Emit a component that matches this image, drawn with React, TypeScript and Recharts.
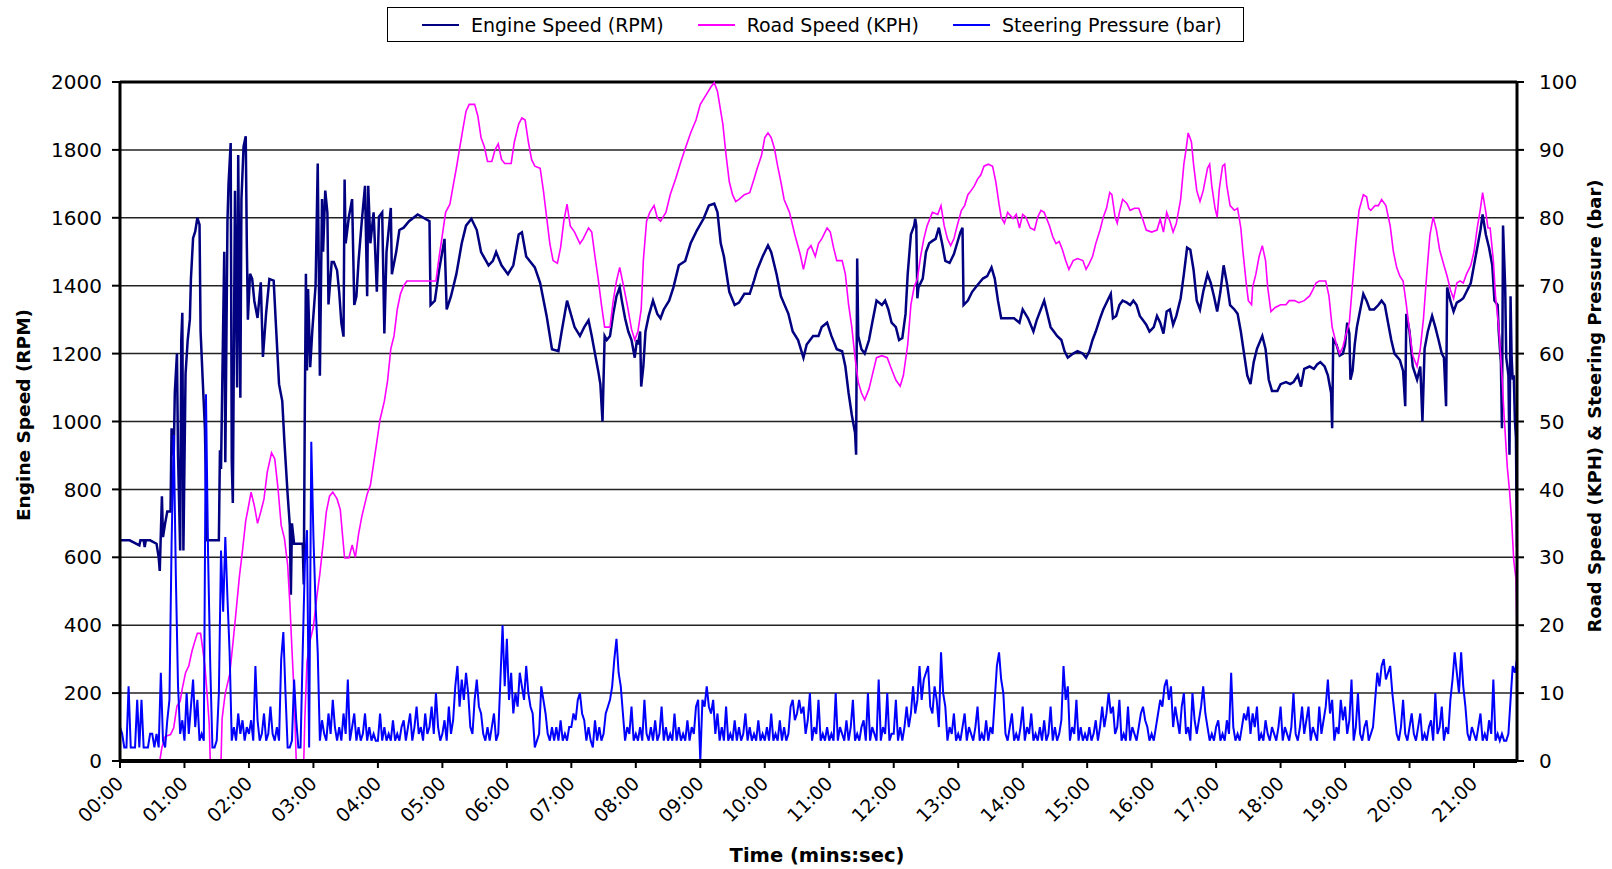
import React from 'react';
import { LineChart, Line, XAxis, YAxis, CartesianGrid, ReferenceLine } from 'recharts';

const FONT = '"DejaVu Sans", "Liberation Sans", Arial, sans-serif';

// [seconds, rpm]
const engineSpeed: [number, number][] = [
  [0, 650], [9, 650], [18, 635], [19, 650], [22, 650], [23, 630], [24, 650], [28, 650], [34, 640], [36, 600],
  [37, 560], [39, 780], [40, 660], [42, 700], [44, 735], [47, 735], [48, 980], [50, 900], [51, 1085], [53, 1200],
  [54, 900], [56, 620], [57, 1240], [58, 1320], [59, 620], [61, 1140], [63, 1240], [65, 1300], [66, 1420], [68, 1540],
  [70, 1560], [72, 1600], [74, 1580], [75, 1265], [77, 1120], [79, 980], [81, 650], [92, 650], [93, 915], [94, 860],
  [97, 1500], [98, 880], [100, 1590], [101, 1700], [103, 1820], [104, 880], [105, 760], [107, 1680], [109, 1100], [110, 1785],
  [112, 1070], [113, 1655], [115, 1810], [117, 1840], [118, 1525], [119, 1300], [121, 1435], [123, 1420], [125, 1355], [128, 1305],
  [131, 1410], [133, 1190], [136, 1320], [139, 1420], [143, 1415], [145, 1290], [148, 1110], [151, 1060], [153, 940], [156, 785],
  [158, 695], [159, 490], [160, 700], [162, 640], [170, 640], [171, 520], [172, 1045], [173, 1435], [174, 1150], [175, 1390],
  [177, 1160], [179, 1270], [182, 1400], [184, 1760], [186, 1135], [188, 1655], [189, 1500], [191, 1680], [193, 1615], [194, 1345],
  [197, 1470], [199, 1470], [202, 1445], [204, 1380], [206, 1290], [208, 1250], [209, 1713], [210, 1525], [213, 1603], [216, 1655],
  [218, 1343], [220, 1369], [222, 1473], [225, 1590], [228, 1694], [230, 1369], [231, 1694], [233, 1525], [236, 1616], [239, 1382],
  [241, 1603], [244, 1616], [246, 1259], [248, 1499], [252, 1629], [253, 1434], [257, 1499], [260, 1564], [264, 1571], [269, 1590],
  [277, 1610], [288, 1590], [289, 1343], [293, 1356], [297, 1447], [302, 1538], [304, 1330], [308, 1369], [313, 1434], [318, 1525],
  [322, 1577], [327, 1597], [332, 1564], [336, 1499], [343, 1460], [347, 1473], [350, 1499], [355, 1460], [361, 1434], [366, 1460],
  [371, 1551], [374, 1557], [378, 1486], [386, 1454], [391, 1408], [397, 1311], [402, 1213], [408, 1207], [411, 1265], [416, 1356],
  [423, 1278], [428, 1252], [432, 1278], [436, 1298], [439, 1252], [442, 1200], [445, 1149], [447, 1110], [449, 1000], [451, 1252],
  [453, 1240], [456, 1252], [459, 1317], [462, 1369], [465, 1395], [467, 1356], [470, 1304], [473, 1265], [476, 1240], [479, 1188],
  [481, 1240], [482, 1227], [484, 1265], [485, 1103], [487, 1162], [489, 1265], [492, 1311], [496, 1356], [500, 1317], [503, 1304],
  [506, 1330], [511, 1356], [515, 1395], [520, 1460], [526, 1473], [531, 1525], [537, 1564], [543, 1597], [548, 1636], [553, 1642],
  [556, 1616], [559, 1525], [562, 1486], [567, 1382], [572, 1343], [576, 1350], [581, 1376], [586, 1376], [590, 1415], [593, 1447],
  [598, 1486], [603, 1519], [606, 1499], [611, 1434], [615, 1369], [622, 1317], [626, 1265], [631, 1240], [636, 1188], [639, 1227],
  [645, 1252], [650, 1252], [653, 1278], [658, 1291], [662, 1252], [667, 1213], [672, 1207], [675, 1162], [678, 1084], [681, 1019],
  [684, 967], [685, 902], [686, 1480], [687, 1252], [690, 1213], [693, 1200], [697, 1240], [700, 1291], [704, 1356], [709, 1343],
  [712, 1356], [715, 1330], [718, 1291], [722, 1278], [725, 1240], [728, 1246], [731, 1317], [733, 1434], [736, 1551], [739, 1577],
  [740, 1597], [741, 1577], [742, 1363], [743, 1395], [747, 1421], [750, 1499], [753, 1525], [756, 1532], [759, 1538], [762, 1571],
  [765, 1525], [768, 1473], [772, 1467], [776, 1493], [779, 1525], [782, 1557], [784, 1571], [785, 1343], [789, 1356], [793, 1382],
  [798, 1402], [803, 1421], [807, 1428], [811, 1454], [814, 1421], [817, 1356], [820, 1304], [826, 1304], [832, 1304], [837, 1291],
  [840, 1330], [845, 1304], [850, 1265], [853, 1298], [860, 1356], [863, 1317], [866, 1278], [869, 1265], [872, 1252], [876, 1240],
  [879, 1207], [882, 1188], [887, 1200], [891, 1207], [896, 1200], [899, 1188], [902, 1207], [905, 1240], [908, 1265], [912, 1304],
  [915, 1330], [918, 1350], [922, 1376], [924, 1304], [927, 1311], [930, 1343], [933, 1356], [937, 1350], [940, 1343], [943, 1356],
  [946, 1343], [949, 1311], [952, 1298], [955, 1285], [958, 1265], [962, 1278], [965, 1311], [968, 1291], [971, 1259], [974, 1324],
  [977, 1330], [980, 1285], [983, 1311], [987, 1363], [990, 1434], [993, 1512], [996, 1506], [999, 1447], [1002, 1356], [1005, 1330],
  [1008, 1382], [1012, 1434], [1015, 1408], [1018, 1369], [1021, 1324], [1024, 1382], [1027, 1460], [1030, 1408], [1033, 1343], [1037, 1330],
  [1040, 1317], [1043, 1265], [1046, 1200], [1049, 1136], [1052, 1110], [1055, 1175], [1058, 1214], [1063, 1252], [1066, 1214], [1069, 1123],
  [1072, 1090], [1077, 1090], [1080, 1110], [1085, 1116], [1089, 1110], [1092, 1116], [1096, 1136], [1099, 1103], [1102, 1155], [1107, 1162],
  [1111, 1155], [1114, 1168], [1117, 1175], [1121, 1162], [1124, 1136], [1127, 1084], [1128, 980], [1129, 1240], [1132, 1227], [1135, 1194],
  [1138, 1200], [1140, 1227], [1142, 1291], [1144, 1259], [1145, 1123], [1147, 1149], [1149, 1227], [1151, 1278], [1153, 1311], [1157, 1376],
  [1160, 1356], [1163, 1330], [1167, 1330], [1171, 1343], [1174, 1356], [1177, 1343], [1180, 1291], [1183, 1240], [1186, 1200], [1191, 1181],
  [1194, 1149], [1196, 1045], [1197, 1317], [1200, 1265], [1203, 1162], [1207, 1123], [1210, 1162], [1212, 1000], [1214, 1214], [1217, 1265],
  [1221, 1311], [1224, 1278], [1227, 1240], [1230, 1200], [1232, 1188], [1234, 1045], [1235, 1395], [1238, 1356], [1241, 1324], [1244, 1350],
  [1247, 1356], [1250, 1363], [1253, 1382], [1257, 1408], [1260, 1460], [1263, 1512], [1266, 1564], [1268, 1610], [1271, 1551], [1274, 1512],
  [1277, 1460], [1279, 1356], [1282, 1343], [1283, 1265], [1285, 1175], [1286, 980], [1287, 1577], [1289, 1395], [1290, 1188], [1292, 1136],
  [1293, 902], [1294, 1369], [1295, 1188], [1296, 1123], [1297, 1136], [1298, 1006], [1299, 954], [1300, 630],
];

// [seconds, km/h]
const roadSpeed: [number, number][] = [
  [0, 0], [37, 0], [39, 2], [42, 3.6], [47, 3.9], [50, 4.9], [53, 8.1], [56, 8.8], [58, 10.7], [61, 13],
  [64, 14], [67, 16.2], [70, 17.8], [72, 18.8], [75, 18.8], [77, 16.5], [79, 14], [81, 10], [83, 5.5], [84, 0],
  [94, 0], [95, 6.2], [97, 8.8], [98, 10], [102, 12.7], [105, 17.2], [108, 22], [111, 27], [114, 31], [117, 35.4],
  [119, 37], [122, 39.6], [125, 37.6], [128, 35], [131, 36.7], [134, 38.6], [137, 42.5], [141, 45.4], [144, 44.5], [147, 40.2],
  [150, 34.7], [153, 32.8], [156, 28.9], [158, 23.4], [160, 16.5], [162, 10], [164, 0], [171, 0], [172, 6.2], [174, 14.6],
  [177, 17.8], [180, 19.8], [183, 24], [186, 27.6], [189, 32], [192, 36.7], [195, 39], [198, 39.6], [202, 38.6], [205, 37],
  [207, 33.4], [209, 29.9], [213, 29.9], [216, 31.8], [219, 30], [222, 33.4], [225, 36], [230, 39.3], [233, 40.6], [236, 43.8],
  [239, 47], [242, 50.3], [246, 53], [249, 56], [252, 60.7], [255, 62.6], [258, 66.5], [261, 68.8], [264, 70], [267, 70.7],
  [294, 70.7], [297, 74.3], [300, 77.5], [303, 80.8], [307, 82], [310, 84.7], [313, 87.3], [316, 90.2], [319, 93], [322, 95.7],
  [325, 96.7], [330, 96.7], [333, 95], [336, 91.8], [339, 90.5], [342, 88.3], [346, 88.3], [349, 90], [352, 90.9], [355, 88.6],
  [358, 88], [364, 88], [367, 91.2], [371, 93.8], [374, 94.7], [377, 94.4], [380, 91.2], [383, 88.6], [386, 87.6], [391, 87.3],
  [394, 84], [397, 80.1], [400, 76.2], [403, 73.7], [407, 73.3], [410, 75.6], [413, 79.5], [416, 82], [419, 78.8], [423, 77.9],
  [428, 76.2], [431, 76.9], [436, 78.5], [439, 77.9], [442, 74.3], [445, 71], [448, 67.2], [451, 63.9], [456, 63.9], [459, 67.8],
  [462, 70.7], [465, 72.7], [468, 70.4], [472, 67.2], [476, 63.6], [479, 62], [482, 63.3], [485, 66.5], [487, 73.7], [490, 79.5],
  [493, 80.8], [497, 81.8], [500, 80], [503, 79.5], [508, 80.8], [512, 83.4], [517, 85.7], [522, 88.3], [526, 90.2], [531, 92.5],
  [536, 94.4], [540, 96.7], [545, 98], [550, 99.3], [553, 99.9], [556, 98.6], [561, 93.8], [564, 89.2], [567, 85.3], [570, 83.4],
  [573, 82.4], [576, 82.7], [581, 83.4], [586, 83.7], [590, 85.7], [593, 87.3], [597, 89.2], [600, 91.8], [603, 92.5], [606, 91.8],
  [609, 90.2], [612, 87.6], [615, 85.3], [618, 82.7], [623, 80.8], [628, 77.5], [633, 74.6], [636, 72.4], [640, 75.3], [643, 75.9],
  [647, 74.3], [650, 76.2], [653, 76.9], [658, 78.5], [661, 77.9], [664, 75.6], [667, 73.7], [672, 73.7], [675, 71.7], [678, 67.2],
  [681, 63.9], [684, 59.4], [687, 55.8], [690, 54.2], [693, 53.2], [697, 54.8], [700, 56.8], [704, 59.4], [709, 59.7], [714, 59.4],
  [717, 58.1], [722, 56.1], [726, 55.2], [729, 56.8], [733, 61.3], [736, 67.2], [739, 69.8], [742, 71], [745, 74.3], [748, 76.9],
  [751, 78.8], [756, 80.8], [761, 80.5], [764, 81.8], [767, 78.8], [770, 76.9], [773, 75.9], [776, 76.9], [779, 78.8], [783, 81.1],
  [786, 81.8], [789, 83.4], [792, 84], [795, 84.7], [798, 85.7], [801, 86.3], [804, 87.6], [808, 87.9], [812, 87.6], [815, 85.3],
  [818, 82], [820, 80.1], [823, 79.2], [826, 80.8], [831, 79.9], [834, 80.5], [837, 78.5], [840, 80.5], [843, 80.1], [847, 78.5],
  [851, 78.2], [854, 80.1], [857, 81.1], [860, 80.8], [865, 78.8], [868, 77.2], [871, 76.2], [874, 76.5], [877, 75.3], [880, 73.7],
  [883, 72.4], [887, 73.7], [891, 74], [896, 73.7], [899, 72.4], [902, 73.3], [905, 74.3], [908, 76.2], [912, 78.2], [915, 80.1],
  [918, 81.4], [921, 83.7], [923, 83.4], [926, 80.1], [928, 79.2], [930, 80.8], [933, 82.7], [937, 82.1], [940, 81.1], [944, 81.4],
  [948, 81.4], [951, 80.1], [955, 78.2], [960, 77.9], [965, 78.2], [968, 79.8], [971, 77.9], [974, 80.8], [977, 79.5], [980, 77.9],
  [983, 79.2], [987, 82.7], [990, 87.9], [992, 90], [994, 92.5], [997, 91.2], [999, 87.9], [1002, 84], [1005, 82.4], [1008, 84],
  [1012, 87.3], [1014, 87.9], [1016, 84.7], [1019, 81.4], [1021, 80.1], [1023, 84.3], [1026, 87.6], [1028, 87.9], [1030, 84.7], [1033, 81.8],
  [1037, 81.1], [1040, 81.4], [1043, 78.5], [1045, 75], [1048, 70.4], [1050, 67.8], [1053, 67.2], [1054, 69.8], [1057, 71.7], [1060, 74.3],
  [1063, 75.9], [1066, 73.7], [1068, 69.8], [1071, 66.2], [1075, 66.8], [1080, 67.2], [1085, 67.2], [1088, 67.8], [1093, 67.8], [1097, 67.5],
  [1102, 67.8], [1107, 68.5], [1110, 69.4], [1113, 70.4], [1116, 70.7], [1122, 70.7], [1125, 68.5], [1128, 63.9], [1132, 61.3], [1135, 60],
  [1138, 61], [1141, 62.9], [1144, 64.6], [1147, 70.4], [1150, 76.2], [1153, 81.1], [1157, 83.4], [1160, 83.1], [1162, 81.4], [1164, 81.1],
  [1168, 81.8], [1171, 81.8], [1174, 82.7], [1178, 81.8], [1182, 78.8], [1185, 75], [1188, 72.7], [1191, 71.4], [1194, 70.7], [1197, 67.2],
  [1200, 63.3], [1203, 59.7], [1207, 58.1], [1210, 60.7], [1213, 65.2], [1216, 71.7], [1219, 77.5], [1222, 80.1], [1225, 78.2], [1228, 75.3],
  [1232, 73], [1235, 71.4], [1238, 69.4], [1241, 68.1], [1244, 70.4], [1247, 70.7], [1250, 70.4], [1253, 71.7], [1257, 73], [1260, 75],
  [1263, 78.5], [1266, 81.4], [1268, 83.7], [1271, 80.8], [1273, 78.5], [1275, 78.5], [1278, 73.7], [1280, 68.5], [1283, 63.9], [1286, 56.8],
  [1288, 50.9], [1291, 43.2], [1293, 39.9], [1295, 35.4], [1297, 29.5], [1299, 26.9], [1300, 19],
];

// bar, one reading every 2 s (30 readings per minute row)
const STEER_STEP = 2;
const steeringPressure: number[] = [
  5, 4, 2, 2, 11, 2, 2, 2, 9, 2, 9, 2, 2, 2, 4, 4, 2, 4, 2, 13, 3, 2, 6, 9, 32, 48, 27, 11, 4, 6,
  3, 10, 4, 8, 12, 5, 9, 3, 4, 3, 54, 30, 14, 2, 2, 3, 10, 31, 22, 33, 24, 16, 3, 5, 3, 7, 4, 6, 3, 5,
  4, 6, 3, 14, 6, 3, 4, 7, 3, 4, 8, 4, 3, 5, 3, 15, 19, 10, 2, 2, 3, 12, 6, 2, 2, 16, 29, 34, 2, 47,
  33, 23, 16, 3, 6, 4, 3, 7, 4, 9, 5, 3, 5, 3, 7, 4, 12, 3, 5, 7, 3, 5, 3, 4, 7, 3, 5, 3, 4, 3,
  3, 7, 3, 5, 3, 4, 3, 6, 3, 4, 3, 5, 6, 3, 5, 7, 3, 5, 8, 4, 5, 3, 7, 4, 5, 8, 4, 10, 5, 3,
  4, 6, 3, 8, 4, 6, 11, 14, 8, 12, 9, 13, 10, 5, 4, 9, 12, 8, 7, 4, 3, 5, 3, 5, 7, 3, 4, 12, 20, 11,
  18, 9, 13, 7, 10, 8, 13, 11, 9, 14, 10, 8, 7, 2, 3, 4, 11, 9, 7, 4, 3, 5, 3, 5, 3, 6, 3, 4, 3, 5,
  5, 7, 6, 9, 10, 7, 6, 3, 5, 3, 2, 6, 3, 5, 3, 4, 7, 8, 9, 11, 15, 18, 13, 11, 7, 3, 5, 4, 8, 3,
  4, 3, 5, 3, 9, 4, 3, 5, 3, 6, 3, 4, 8, 3, 5, 3, 4, 3, 7, 3, 5, 3, 4, 3, 6, 3, 5, 4, 8, 9,
  0, 9, 8, 11, 8, 7, 9, 4, 7, 3, 5, 3, 8, 3, 4, 3, 6, 3, 5, 3, 4, 7, 3, 5, 3, 4, 3, 6, 3, 4,
  3, 5, 3, 7, 3, 4, 3, 6, 3, 5, 3, 4, 8, 9, 6, 7, 9, 7, 8, 4, 6, 10, 3, 5, 4, 9, 3, 4, 3, 5,
  3, 4, 3, 10, 3, 5, 4, 3, 6, 3, 5, 9, 3, 4, 3, 5, 6, 3, 10, 3, 5, 4, 3, 12, 3, 5, 4, 10, 3, 4,
  4, 9, 3, 5, 3, 5, 8, 5, 7, 11, 7, 9, 14, 9, 12, 13, 14, 8, 7, 11, 9, 5, 16, 10, 8, 3, 5, 4, 7, 3,
  4, 3, 5, 7, 3, 5, 4, 3, 5, 8, 3, 4, 3, 6, 3, 5, 4, 9, 14, 16, 12, 10, 4, 3, 5, 7, 3, 4, 3, 5,
  8, 3, 5, 4, 7, 3, 4, 3, 5, 3, 6, 3, 4, 8, 3, 5, 3, 4, 6, 14, 9, 11, 3, 5, 4, 9, 3, 5, 3, 4,
  3, 5, 3, 4, 6, 3, 5, 8, 5, 7, 10, 7, 8, 4, 5, 9, 3, 4, 3, 8, 3, 5, 4, 3, 5, 7, 8, 6, 5, 3,
  4, 3, 5, 7, 9, 8, 11, 12, 9, 11, 5, 8, 6, 4, 8, 10, 4, 5, 3, 10, 6, 4, 6, 8, 11, 7, 5, 3, 4, 3,
  5, 6, 3, 4, 3, 6, 4, 13, 5, 3, 4, 3, 5, 7, 6, 8, 4, 7, 5, 8, 3, 4, 3, 6, 4, 3, 5, 4, 3, 5,
  8, 3, 5, 4, 3, 5, 10, 4, 3, 5, 8, 4, 6, 8, 3, 5, 4, 3, 8, 4, 6, 8, 12, 7, 9, 3, 5, 4, 9, 6,
  8, 4, 6, 12, 3, 5, 10, 4, 3, 5, 6, 3, 4, 5, 9, 13, 11, 14, 15, 12, 13, 14, 10, 7, 4, 3, 5, 9, 4, 3,
  5, 7, 4, 3, 5, 7, 3, 4, 3, 5, 6, 3, 10, 4, 5, 8, 3, 5, 4, 9, 12, 16, 13, 10, 16, 11, 8, 4, 3, 5,
  4, 3, 5, 7, 3, 4, 3, 6, 4, 12, 3, 4, 3, 4, 3, 3, 4, 9, 14, 13, 15,
];

const timeTicks = [0, 60, 120, 180, 240, 300, 360, 420, 480, 540, 600, 660, 720, 780, 840, 900, 960, 1020, 1080, 1140, 1200, 1260];
const timeLabels = ['00:00', '01:00', '02:00', '03:00', '04:00', '05:00', '06:00', '07:00', '08:00', '09:00', '10:00',
  '11:00', '12:00', '13:00', '14:00', '15:00', '16:00', '17:00', '18:00', '19:00', '20:00', '21:00'];
const rpmTicks = [0, 200, 400, 600, 800, 1000, 1200, 1400, 1600, 1800, 2000];
const barTicks = [0, 10, 20, 30, 40, 50, 60, 70, 80, 90, 100];

const engineData = engineSpeed.map(([t, rpm]) => ({ t, rpm }));
const roadData = roadSpeed.map(([t, kph]) => ({ t, kph }));
const steeringData = steeringPressure.map((bar, i) => ({ t: i * STEER_STEP, bar }));

const TimeTick = (props: any) => {
  const { x, y, payload } = props;
  const idx = timeTicks.indexOf(payload.value);
  const ax = x - 5;
  const ay = y + 5;
  return (
    <text
      x={ax}
      y={ay}
      transform={`rotate(-45 ${ax} ${ay})`}
      textAnchor="end"
      dy="0.72em"
      fontSize={19}
      fontFamily={FONT}
      fill="#000"
    >
      {idx >= 0 ? timeLabels[idx] : ''}
    </text>
  );
};

const titleStyle = { fontFamily: FONT, fontWeight: 700, fill: '#000' };

const legendItems = [
  { name: 'Engine Speed (RPM)', color: '#000080' },
  { name: 'Road Speed (KPH)', color: '#FF00FF' },
  { name: 'Steering Pressure (bar)', color: '#0000FF' },
];

export default function App() {
  return (
    <div style={{ position: 'absolute', left: 0, top: 0, width: 1612, height: 869, background: '#fff' }}>
      <LineChart width={1612} height={869} margin={{ top: 82, right: 0, bottom: 0, left: 0 }}>
        <CartesianGrid yAxisId="rpm" vertical={false} stroke="#222" strokeWidth={1.5} />
        <XAxis
          dataKey="t"
          type="number"
          domain={[0, 1300]}
          ticks={timeTicks}
          allowDataOverflow
          height={108}
          tick={<TimeTick />}
          tickSize={7}
          tickLine={{ stroke: '#000', strokeWidth: 2 }}
          axisLine={{ stroke: '#000', strokeWidth: 4 }}
          label={() => (
            <text x={817} y={855} textAnchor="middle" dominantBaseline="central" fontSize={19.5} style={titleStyle}>
              Time (mins:sec)
            </text>
          )}
        />
        <YAxis
          yAxisId="rpm"
          width={120}
          domain={[0, 2000]}
          ticks={rpmTicks}
          interval={0}
          tickSize={8}
          tickMargin={10}
          tick={{ fill: '#000', fontSize: 20, fontFamily: FONT }}
          tickLine={{ stroke: '#000', strokeWidth: 2 }}
          axisLine={{ stroke: '#000', strokeWidth: 3 }}
          label={() => (
            <text x={23} y={415} transform="rotate(-90 23 415)" textAnchor="middle" dominantBaseline="central" fontSize={18.5} style={titleStyle}>
              Engine Speed (RPM)
            </text>
          )}
        />
        <YAxis
          yAxisId="kph"
          orientation="right"
          width={95}
          domain={[0, 100]}
          ticks={barTicks}
          interval={0}
          tickSize={7}
          tickMargin={15}
          tick={{ fill: '#000', fontSize: 20, fontFamily: FONT, textAnchor: 'start' }}
          tickLine={{ stroke: '#000', strokeWidth: 2 }}
          axisLine={{ stroke: '#000', strokeWidth: 3 }}
          label={() => (
            <text x={1594} y={406} transform="rotate(-90 1594 406)" textAnchor="middle" dominantBaseline="central" fontSize={18} style={titleStyle}>
              Road Speed (KPH) &amp; Steering Pressure (bar)
            </text>
          )}
        />
        <ReferenceLine yAxisId="rpm" y={2000} stroke="#000" strokeWidth={3} />
        <Line
          data={engineData}
          yAxisId="rpm"
          dataKey="rpm"
          type="linear"
          stroke="#000080"
          strokeWidth={2.5}
          dot={false}
          isAnimationActive={false}
        />
        <Line
          data={roadData}
          yAxisId="kph"
          dataKey="kph"
          type="linear"
          stroke="#FF00FF"
          strokeWidth={1.6}
          dot={false}
          isAnimationActive={false}
        />
        <Line
          data={steeringData}
          yAxisId="kph"
          dataKey="bar"
          type="linear"
          stroke="#0000FF"
          strokeWidth={2}
          dot={false}
          isAnimationActive={false}
        />
      </LineChart>
      <div
        style={{
          position: 'absolute',
          left: 387,
          top: 7,
          width: 857,
          height: 35,
          border: '1.5px solid #000',
          display: 'flex',
          alignItems: 'center',
          paddingLeft: 34,
          boxSizing: 'border-box',
          fontFamily: FONT,
          fontSize: 19,
          color: '#000',
          gap: 34,
        }}
      >
        {legendItems.map((item) => (
          <div key={item.name} style={{ display: 'flex', alignItems: 'center', gap: 12 }}>
            <span style={{ display: 'inline-block', width: 37, height: 2, background: item.color }} />
            <span>{item.name}</span>
          </div>
        ))}
      </div>
    </div>
  );
}
